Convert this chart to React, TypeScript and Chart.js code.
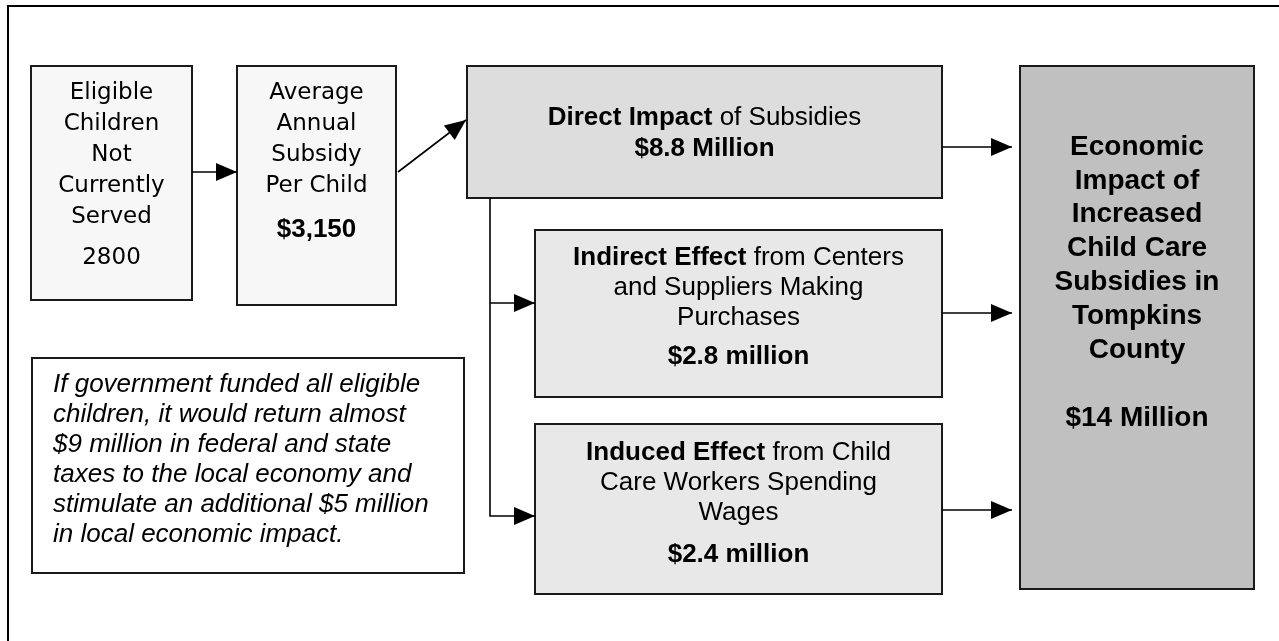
import React, { useEffect, useRef } from 'react';
import { Chart, registerables } from 'chart.js';

Chart.register(...registerables);

const W = 1279;
const H = 641;

// ---------- content (data) ----------
const eligibleLines = ['Eligible', 'Children', 'Not', 'Currently', 'Served'];
const eligibleValue = '2800';
const subsidyLines = ['Average', 'Annual', 'Subsidy', 'Per Child'];
const subsidyValue = '$3,150';
const directLines = [['Direct Impact', ' of Subsidies']];
const directValue = '$8.8 Million';
const indirectLines = [['Indirect Effect', ' from Centers'], ['', 'and Suppliers Making'], ['', 'Purchases']];
const indirectValue = '$2.8 million';
const inducedLines = [['Induced Effect', ' from Child'], ['', 'Care Workers Spending'], ['', 'Wages']];
const inducedValue = '$2.4 million';
const totalLines = ['Economic', 'Impact of', 'Increased', 'Child Care', 'Subsidies in', 'Tompkins', 'County'];
const totalValue = '$14 Million';
const noteLines = [
  'If government funded all eligible',
  'children, it would return almost',
  '$9 million in federal and state',
  'taxes to the local economy and',
  'stimulate an additional $5 million',
  'in local economic impact.',
];

// ---------- layout (positions / styles) ----------
const frame = { x0: 8, y0: 6, x1: 1292, y1: 662 };
const boxGeom: Record<string, { x0: number; y0: number; x1: number; y1: number; fill: string }> = {
  eligible: { x0: 31, y0: 66, x1: 192, y1: 300, fill: '#f7f7f7' },
  subsidy: { x0: 237, y0: 66, x1: 396, y1: 305, fill: '#f7f7f7' },
  direct: { x0: 467, y0: 66, x1: 942, y1: 198, fill: '#dddddd' },
  indirect: { x0: 535, y0: 230, x1: 942, y1: 397, fill: '#e8e8e8' },
  induced: { x0: 535, y0: 424, x1: 942, y1: 594, fill: '#e8e8e8' },
  total: { x0: 1020, y0: 66, x1: 1254, y1: 589, fill: '#c0c0c0' },
  note: { x0: 32, y0: 358, x1: 464, y1: 573, fill: '#ffffff' },
};
const connectors: { pts: number[][] }[] = [
  { pts: [[192, 172], [237, 172]] },
  { pts: [[398, 172], [466, 120]] },
  { pts: [[942, 147], [1012, 147]] },
  { pts: [[942, 313], [1012, 313]] },
  { pts: [[942, 510], [1012, 510]] },
  { pts: [[490, 198], [490, 516], [535, 516]] },
  { pts: [[490, 303], [535, 303]] },
];
const VERD = '"DejaVu Sans", Verdana, sans-serif';
const ARIAL = '"Liberation Sans", Arial, sans-serif';

const datasets = connectors.map((c) => ({
  data: c.pts.map((p) => ({ x: p[0], y: p[1] })),
  showLine: true,
  pointRadius: 0,
  borderColor: '#000',
  borderWidth: 1.6,
  fill: false,
  tension: 0,
  clip: false as any,
}));

function mixedLine(ctx: CanvasRenderingContext2D, bold: string, rest: string, cx: number, cy: number, size: number) {
  ctx.font = `bold ${size}px ${ARIAL}`;
  const wb = bold ? ctx.measureText(bold).width : 0;
  ctx.font = `${size}px ${ARIAL}`;
  const wr = rest ? ctx.measureText(rest).width : 0;
  let x = cx - (wb + wr) / 2;
  ctx.textAlign = 'left';
  if (bold) {
    ctx.font = `bold ${size}px ${ARIAL}`;
    ctx.fillText(bold, x, cy);
    x += wb;
  }
  if (rest) {
    ctx.font = `${size}px ${ARIAL}`;
    ctx.fillText(rest, x, cy);
  }
}

const flowPlugin = {
  id: 'flow',
  beforeDatasetsDraw(chart: any) {
    const ctx = chart.ctx as CanvasRenderingContext2D;
    const xs = chart.scales.x;
    const ys = chart.scales.y;
    const px = (v: number) => xs.getPixelForValue(v);
    const py = (v: number) => ys.getPixelForValue(v);
    ctx.save();
    ctx.fillStyle = '#fff';
    ctx.fillRect(0, 0, chart.width, chart.height);
    ctx.lineWidth = 2;
    ctx.strokeStyle = '#000';
    ctx.strokeRect(px(frame.x0), py(frame.y0), px(frame.x1) - px(frame.x0), py(frame.y1) - py(frame.y0));
    Object.values(boxGeom).forEach((b) => {
      const x = px(b.x0), y = py(b.y0), w = px(b.x1) - x, h = py(b.y1) - y;
      ctx.fillStyle = b.fill;
      ctx.fillRect(x, y, w, h);
      ctx.lineWidth = 2;
      ctx.strokeStyle = '#1a1a1a';
      ctx.strokeRect(x, y, w, h);
    });
    ctx.restore();
  },
  afterDatasetsDraw(chart: any) {
    const ctx = chart.ctx as CanvasRenderingContext2D;
    const xs = chart.scales.x;
    const ys = chart.scales.y;
    const px = (v: number) => xs.getPixelForValue(v);
    const py = (v: number) => ys.getPixelForValue(v);
    ctx.save();
    // arrowheads
    ctx.fillStyle = '#000';
    connectors.forEach((c) => {
      const n = c.pts.length;
      const ax = px(c.pts[n - 2][0]), ay = py(c.pts[n - 2][1]);
      const bx = px(c.pts[n - 1][0]), by = py(c.pts[n - 1][1]);
      const len = Math.hypot(bx - ax, by - ay);
      const dx = (bx - ax) / len, dy = (by - ay) / len;
      const L = 21, Hw = 9;
      ctx.beginPath();
      ctx.moveTo(bx, by);
      ctx.lineTo(bx - dx * L - dy * Hw, by - dy * L + dx * Hw);
      ctx.lineTo(bx - dx * L + dy * Hw, by - dy * L - dx * Hw);
      ctx.closePath();
      ctx.fill();
    });

    ctx.fillStyle = '#000';
    ctx.textBaseline = 'middle';
    ctx.textAlign = 'center';
    const cxOf = (k: string) => (px(boxGeom[k].x0) + px(boxGeom[k].x1)) / 2;

    // Eligible box
    ctx.font = `23px ${VERD}`;
    const eY = [93, 124, 155, 186, 217];
    eligibleLines.forEach((t, i) => ctx.fillText(t, cxOf('eligible'), py(eY[i])));
    ctx.fillText(eligibleValue, cxOf('eligible'), py(258));

    // Subsidy box
    subsidyLines.forEach((t, i) => ctx.fillText(t, cxOf('subsidy'), py(eY[i])));
    ctx.font = `bold 26px ${ARIAL}`;
    ctx.fillText(subsidyValue, cxOf('subsidy'), py(230));

    // Direct
    directLines.forEach((l) => mixedLine(ctx, l[0], l[1], cxOf('direct'), py(118), 26));
    ctx.textAlign = 'center';
    ctx.font = `bold 26px ${ARIAL}`;
    ctx.fillText(directValue, cxOf('direct'), py(149));

    // Indirect
    const iY = [258, 288, 318];
    indirectLines.forEach((l, i) => mixedLine(ctx, l[0], l[1], cxOf('indirect'), py(iY[i]), 26));
    ctx.textAlign = 'center';
    ctx.font = `bold 26px ${ARIAL}`;
    ctx.fillText(indirectValue, cxOf('indirect'), py(357));

    // Induced
    const dY = [453, 483, 513];
    inducedLines.forEach((l, i) => mixedLine(ctx, l[0], l[1], cxOf('induced'), py(dY[i]), 26));
    ctx.textAlign = 'center';
    ctx.font = `bold 26px ${ARIAL}`;
    ctx.fillText(inducedValue, cxOf('induced'), py(555));

    // Total
    ctx.font = `bold 28px ${ARIAL}`;
    totalLines.forEach((t, i) => ctx.fillText(t, cxOf('total'), py(147 + i * 33.8)));
    ctx.fillText(totalValue, cxOf('total'), py(418));

    // Note
    ctx.textAlign = 'left';
    ctx.font = `italic 26px ${ARIAL}`;
    noteLines.forEach((t, i) => ctx.fillText(t, px(53), py(385 + i * 30)));

    ctx.restore();
  },
};

export default function App() {
  const ref = useRef<HTMLCanvasElement | null>(null);
  useEffect(() => {
    document.body.style.margin = '0';
    const chart = new Chart(ref.current as HTMLCanvasElement, {
      type: 'scatter',
      data: { datasets: datasets as any },
      options: {
        animation: false,
        responsive: false,
        maintainAspectRatio: false,
        events: [],
        layout: { padding: 0 },
        scales: {
          x: { type: 'linear', min: 0, max: W, display: false },
          y: { type: 'linear', min: 0, max: H, reverse: true, display: false },
        },
        plugins: { legend: { display: false }, tooltip: { enabled: false } },
      },
      plugins: [flowPlugin],
    });
    return () => chart.destroy();
  }, []);
  return (
    <div style={{ position: 'fixed', left: 0, top: 0, width: W, height: H, background: '#fff' }}>
      <canvas ref={ref} width={W} height={H} style={{ display: 'block', width: W, height: H }} />
    </div>
  );
}
